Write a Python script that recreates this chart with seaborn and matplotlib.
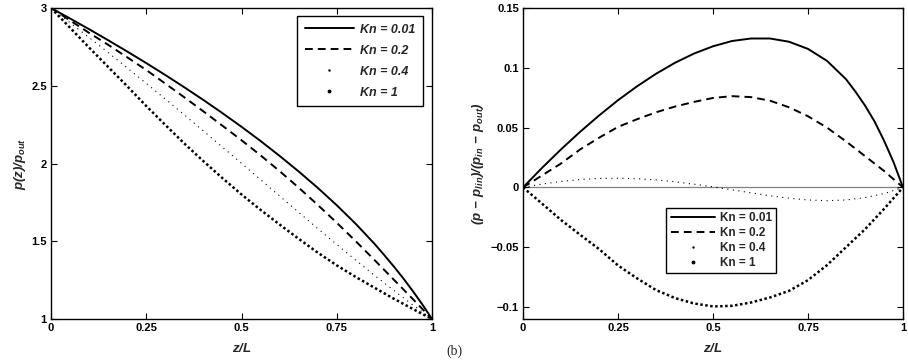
import seaborn as sns
import matplotlib.pyplot as plt
from matplotlib.lines import Line2D
import numpy as np

sns.set_style("ticks")
plt.rcParams['font.family'] = ['Liberation Sans', 'DejaVu Sans']
plt.rcParams['font.weight'] = 'bold'
plt.rcParams['mathtext.fontset'] = 'custom'
plt.rcParams['mathtext.rm'] = 'Liberation Sans:style=italic:weight=bold'
plt.rcParams['mathtext.it'] = 'Liberation Sans:style=italic:weight=bold'
plt.rcParams['mathtext.bf'] = 'Liberation Sans:style=italic:weight=bold'

# pressure ratio p_in / p_out
p_ratio = 3.0

# z/L positions
z = [0, 0.05, 0.1, 0.15, 0.2, 0.25, 0.3, 0.35, 0.4, 0.45, 0.5,
     0.55, 0.6, 0.65, 0.7, 0.75, 0.8, 0.85, 0.9, 0.95, 1.0]
z_001 = [0, 0.05, 0.1, 0.15, 0.2, 0.25, 0.3, 0.35, 0.4, 0.45, 0.5,
         0.55, 0.6, 0.65, 0.7, 0.75, 0.8, 0.85, 0.875, 0.9, 0.925, 0.95, 0.975, 1.0]

# (p - p_lin)/(p_in - p_out)
dev_001 = [0, 0.0163, 0.0318, 0.0464, 0.0601, 0.0729, 0.0845, 0.0950, 0.1042, 0.1119, 0.1180,
           0.1224, 0.1245, 0.1245, 0.1218, 0.1158, 0.1058, 0.0905, 0.0800, 0.0685, 0.0552, 0.0392,
           0.0212, 0]
dev_02 = [0, 0.0100, 0.0200, 0.0317, 0.0415, 0.0506, 0.0570, 0.0628, 0.0676, 0.0715, 0.0748,
          0.0763, 0.0755, 0.0725, 0.0670, 0.0595, 0.0500, 0.0385, 0.0262, 0.0138, 0]
dev_04 = [0, 0.0028, 0.0050, 0.0066, 0.0075, 0.0077, 0.0073, 0.0063, 0.0047, 0.0027, 0.0005,
          -0.0020, -0.0045, -0.0070, -0.0090, -0.0105, -0.0111, -0.0105, -0.0085, -0.0052, 0]
dev_1 = [0, -0.0135, -0.0272, -0.0395, -0.0515, -0.0652, -0.0760, -0.0858, -0.0925, -0.0970, -0.0995,
         -0.0990, -0.0962, -0.0920, -0.0865, -0.0775, -0.0650, -0.0500, -0.0350, -0.0180, 0]

labels = ["Kn = 0.01", "Kn = 0.2", "Kn = 0.4", "Kn = 1"]
series = [(z_001, dev_001), (z, dev_02), (z, dev_04), (z, dev_1)]
styles = [dict(linewidth=1.4, linestyle='-'),
          dict(linewidth=1.4, linestyle=(0, (4, 2.6))),
          dict(linewidth=0.8, linestyle=(0, (1, 4))),
          dict(linewidth=1.8, linestyle=(0, (1, 1)))]


def to_pressure(zz, dd):
    zz = np.asarray(zz)
    dd = np.asarray(dd)
    return p_ratio - (p_ratio - 1) * zz + (p_ratio - 1) * dd


fig = plt.figure(figsize=(9.08, 3.6), dpi=100)
ax1 = fig.add_axes([51 / 908, 41 / 360, 381 / 908, 311 / 360])
ax2 = fig.add_axes([523 / 908, 41 / 360, 380 / 908, 311 / 360])

for (zz, dd), st in zip(series, styles):
    sns.lineplot(x=zz, y=to_pressure(zz, dd), ax=ax1, color='black', estimator=None, **st)
    sns.lineplot(x=zz, y=dd, ax=ax2, color='black', estimator=None, **st)

ax2.axhline(0, color='gray', linewidth=0.9, zorder=0)

xt = [0, 0.25, 0.5, 0.75, 1]
xtl = ["0", "0.25", "0.5", "0.75", "1"]
for ax in (ax1, ax2):
    ax.set_xlim(0, 1)
    ax.set_xticks(xt)
    ax.set_xticklabels(xtl)
    ax.tick_params(direction='in', top=True, right=True, length=4, width=0.8,
                   labelsize=8, pad=3, colors='black')
    for sp in ax.spines.values():
        sp.set_linewidth(1.0)
        sp.set_color('black')
    ax.set_xlabel(r'$z/L$', fontsize=9.5, labelpad=6)

ax1.set_ylim(1, 3)
ax1.set_yticks([1, 1.5, 2, 2.5, 3])
ax1.set_yticklabels(["1", "1.5", "2", "2.5", "3"])
ax1.set_ylabel(r'$p(z)/p_{out}$', fontsize=9.5, labelpad=2)

ax2.set_ylim(-0.11, 0.15)
ax2.set_yticks([-0.1, -0.05, 0, 0.05, 0.1, 0.15])
ax2.set_yticklabels(["\u22120.1", "\u22120.05", "0", "0.05", "0.1", "0.15"])
ax2.set_ylabel(r'$(p\,-\,p_{lin})/(p_{in}\,-\,p_{out})$', fontsize=9.5, labelpad=3)

handles = [Line2D([], [], color='black', linewidth=1.4),
           Line2D([], [], color='black', linewidth=1.4, linestyle=(0, (4, 2.6))),
           Line2D([], [], color='black', linestyle='none', marker='.', markersize=1.5),
           Line2D([], [], color='black', linestyle='none', marker='.', markersize=3.5)]

leg1 = ax1.legend(handles, labels, loc='upper right', bbox_to_anchor=(0.976, 0.974),
                  prop={'family': 'Liberation Sans', 'weight': 'bold', 'style': 'italic', 'size': 9},
                  fancybox=False, framealpha=1, edgecolor='black', handlelength=3.9,
                  handletextpad=0.5, labelspacing=0.72, borderpad=0.6, borderaxespad=0)
leg1.get_frame().set_linewidth(1.0)

leg2 = ax2.legend(handles, labels, loc='upper center', bbox_to_anchor=(0.522, 0.357),
                  prop={'family': 'Liberation Sans', 'weight': 'bold', 'size': 8.5},
                  fancybox=False, framealpha=1, edgecolor='black', handlelength=3.8,
                  handletextpad=0.4, labelspacing=0.25, borderpad=0.35, borderaxespad=0)
leg2.get_frame().set_linewidth(1.0)

fig.text(0.5, 0.025, "(b)", ha='center', va='center', fontsize=10,
         family='Liberation Serif', weight='normal')

fig.savefig("out.png", dpi=100)
